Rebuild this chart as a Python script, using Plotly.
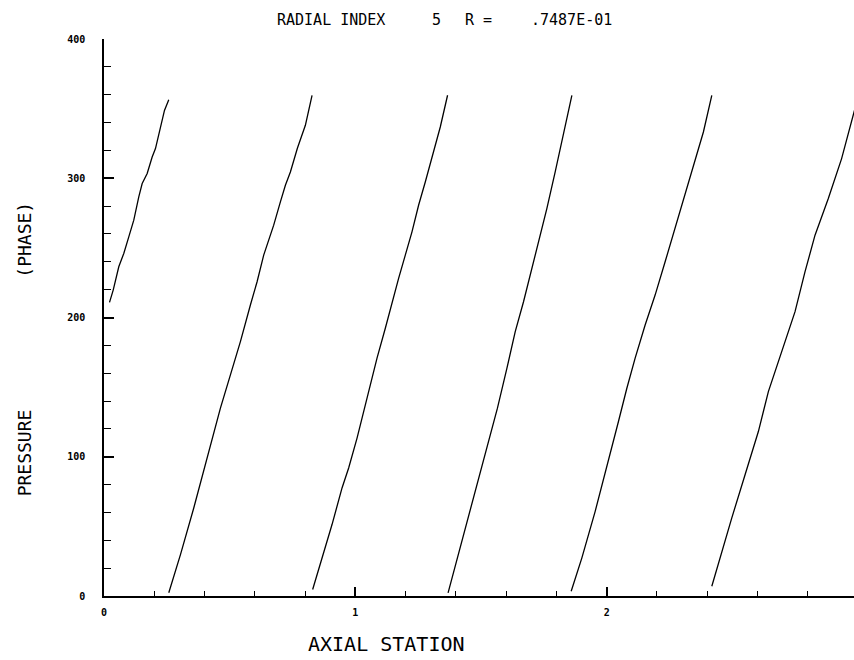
import plotly.graph_objects as go

# Axial station / pressure phase (degrees), one list pair per 0-360 branch
x_seg1 = [0.0219, 0.0366, 0.0588, 0.0787, 0.0986, 0.1185, 0.1384, 0.1519, 0.1718,
          0.1916, 0.2048, 0.2179, 0.2274, 0.2406, 0.2577]
p_seg1 = [210.9, 219.7, 236.4, 246.0, 257.9, 269.9, 286.6, 296.2, 303.4,
          315.3, 321.3, 332.0, 340.4, 348.7, 356.4]

x_seg2 = [0.2577, 0.3042, 0.3571, 0.3968, 0.4235, 0.4632, 0.5030, 0.5427, 0.5825,
          0.6091, 0.6354, 0.6752, 0.7018, 0.7217, 0.7416, 0.7694, 0.8012, 0.8278]
p_seg2 = [2.3, 29.7, 63.2, 89.5, 108.6, 134.9, 158.8, 182.7, 209.0,
          225.7, 244.8, 266.3, 283.0, 295.0, 304.5, 321.5, 338.0, 359.5]

x_seg3 = [0.8302, 0.8676, 0.9073, 0.9471, 0.9734, 1.0068, 1.0398, 1.0664, 1.0863,
          1.1193, 1.1459, 1.1722, 1.1988, 1.2254, 1.2517, 1.2783, 1.3380, 1.3670]
p_seg3 = [4.7, 27.4, 51.3, 77.6, 91.9, 113.4, 137.3, 156.4, 170.8,
          192.3, 211.3, 228.1, 244.8, 261.5, 280.6, 297.3, 336.8, 359.6]

x_seg4 = [1.3690, 1.4064, 1.4461, 1.4859, 1.5256, 1.5654, 1.6032, 1.6362, 1.6692,
          1.7090, 1.7356, 1.7622, 1.7952, 1.8219, 1.8417, 1.8616]
p_seg4 = [2.3, 27.4, 53.6, 82.3, 108.6, 134.9, 163.6, 189.8, 211.3,
          240.0, 259.1, 278.3, 304.5, 326.0, 342.8, 359.5]

x_seg5 = [1.8588, 1.9014, 1.9543, 2.0072, 2.0469, 2.0803, 2.1133, 2.1531, 2.1928,
          2.2326, 2.2724, 2.3121, 2.3519, 2.3849, 2.4183]
p_seg5 = [3.4, 27.4, 60.8, 96.6, 125.3, 149.2, 170.8, 194.6, 216.1,
          240.0, 263.9, 287.8, 311.7, 333.2, 359.5]

x_seg6 = [2.4183, 2.4581, 2.4979, 2.5507, 2.6036, 2.6434, 2.6966, 2.7495, 2.7893,
          2.8290, 2.8819, 2.9348, 2.9841, 3.0000]
p_seg6 = [7.0, 32.1, 56.1, 87.1, 118.1, 146.8, 175.5, 204.2, 232.9,
          259.1, 285.4, 314.1, 347.5, 357.5]

segments = [(x_seg1, p_seg1), (x_seg2, p_seg2), (x_seg3, p_seg3),
            (x_seg4, p_seg4), (x_seg5, p_seg5), (x_seg6, p_seg6)]

x_ticks = [0, 1, 2]
y_ticks = [0, 100, 200, 300, 400]

TITLE_PARTS = [("RADIAL INDEX", 330.5), ("5", 436.5), ("R =", 478.0), (".7487E-01", 571.5)]

W, H = 854, 660
ML, MR, MT, MB = 103.5, 0.0, 38.5, 63.5
PW, PH = W - ML - MR, H - MT - MB
PX_PER_UNIT = 251.5  # horizontal pixels per axial station unit


def px_to_paper_x(px):
    return (px - ML) / PW


def px_to_paper_y(py):
    return (H - MB - py) / PH


mono = "DejaVu Sans Mono"

fig = go.Figure()
for xs, ps in segments:
    fig.add_trace(go.Scatter(x=xs, y=ps, mode="lines",
                             line=dict(color="black", width=1.3),
                             showlegend=False, hoverinfo="skip"))

x_end = PW / PX_PER_UNIT  # frame stops just short of station 3

fig.update_layout(
    width=W, height=H,
    margin=dict(l=ML, r=MR, t=MT, b=MB, pad=0),
    paper_bgcolor="white", plot_bgcolor="white",
    showlegend=False,
    xaxis=dict(range=[0, x_end], tickvals=x_ticks, ticktext=[str(v) for v in x_ticks],
               ticks="inside", ticklen=9, tickwidth=1.5, tickcolor="black",
               minor=dict(dtick=0.2, tick0=0, ticks="inside", ticklen=5,
                          tickwidth=1.3, tickcolor="black", showgrid=False),
               showline=True, linecolor="black", linewidth=1.6,
               showgrid=False, zeroline=False,
               tickfont=dict(family=mono, size=10, color="black", weight="bold"),
               ticklabelstandoff=6),
    yaxis=dict(range=[0, 400], tickvals=y_ticks, ticktext=[str(v) for v in y_ticks],
               ticks="inside", ticklen=10, tickwidth=1.5, tickcolor="black",
               minor=dict(dtick=20, tick0=0, ticks="inside", ticklen=7,
                          tickwidth=1.3, tickcolor="black", showgrid=False),
               showline=True, linecolor="black", linewidth=1.6,
               showgrid=False, zeroline=False,
               tickfont=dict(family=mono, size=10, color="black", weight="bold"),
               ticklabelstandoff=15),
)

annotations = []
for text, cx in TITLE_PARTS:
    annotations.append(dict(text=text, xref="paper", yref="paper",
                            x=px_to_paper_x(cx), y=px_to_paper_y(19),
                            xanchor="center", yanchor="middle", showarrow=False,
                            font=dict(family=mono, size=15, color="black")))

# Last tick label sits on the right edge of the frame
annotations.append(dict(text="3", xref="paper", yref="paper",
                        x=px_to_paper_x(ML + 3 * PX_PER_UNIT), y=px_to_paper_y(610),
                        xanchor="center", yanchor="middle", showarrow=False,
                        font=dict(family=mono, size=10, color="black", weight="bold")))

annotations.append(dict(text="AXIAL STATION", xref="paper", yref="paper",
                        x=px_to_paper_x(386), y=px_to_paper_y(645),
                        xanchor="center", yanchor="middle", showarrow=False,
                        font=dict(family=mono, size=20, color="black")))
annotations.append(dict(text="PRESSURE", xref="paper", yref="paper",
                        x=px_to_paper_x(24), y=px_to_paper_y(453),
                        xanchor="center", yanchor="middle", showarrow=False,
                        textangle=-90,
                        font=dict(family=mono, size=18, color="black")))
annotations.append(dict(text="(PHASE)", xref="paper", yref="paper",
                        x=px_to_paper_x(24), y=px_to_paper_y(240),
                        xanchor="center", yanchor="middle", showarrow=False,
                        textangle=-90,
                        font=dict(family=mono, size=18, color="black")))
fig.update_layout(annotations=annotations)

fig.write_html("out.html")
